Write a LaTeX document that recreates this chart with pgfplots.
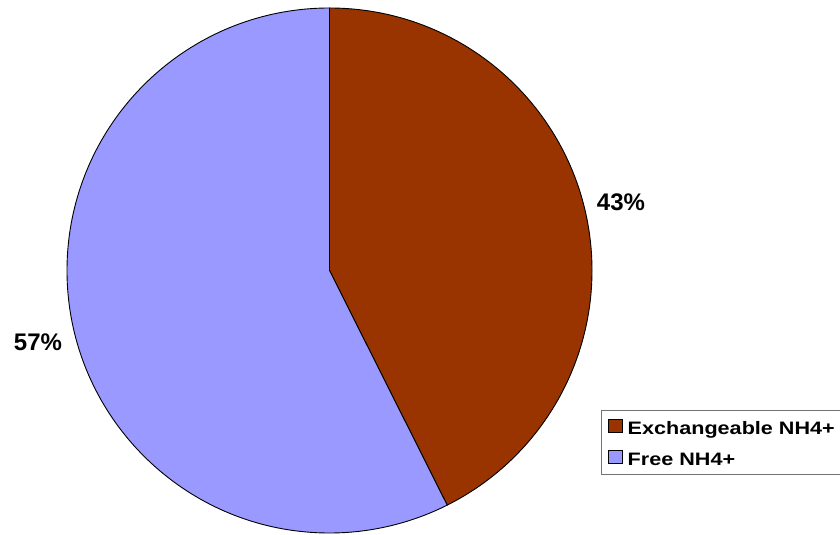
\documentclass[border=0pt]{standalone}
\usepackage{pgfplots}
\usepackage{pgfplotstable}
\pgfplotsset{compat=1.18}
\usepackage{fontspec}
\setmainfont{Liberation Sans}
\newfontfamily\legfont[FakeStretch=1.2]{Liberation Sans}
\definecolor{exch}{HTML}{993300}
\definecolor{free}{HTML}{9999FF}
\pgfplotstableread{
name value
Exchangeable 42.6
Free 57.4
}\piedata
\begin{document}
\begin{tikzpicture}
\pgfplotstablegetelem{0}{value}\of\piedata \let\va\pgfplotsretval
\pgfplotstablegetelem{1}{value}\of\piedata \let\vb\pgfplotsretval
\pgfmathsetmacro{\angA}{90-3.6*\va}
\begin{axis}[
  scale only axis, width=840pt, height=535pt,
  xmin=0, xmax=840, ymin=0, ymax=535,
  hide axis, clip=false,
  legend style={at={(axis cs:601,125)}, anchor=north west, draw=black!55, line width=0.8pt,
    font=\legfont\bfseries\fontsize{18}{20}\selectfont, inner xsep=6.5pt, inner ysep=8.5pt,
    row sep=15pt, cells={anchor=west},
    nodes={inner sep=0pt, text height=13pt, text depth=0pt},
    /tikz/every odd column/.append style={column sep=5pt}},
  legend image code/.code={\draw[#1, draw=black, line width=0.8pt] (0pt,-4pt) rectangle (14pt,9pt);},
]
\addlegendimage{fill=exch}
\addlegendentry{Exchangeable NH4+}
\addlegendimage{fill=free}
\addlegendentry{Free NH4+}
\filldraw[fill=exch, draw=black, line width=0.9pt] (axis cs:329.5,264.5) -- (axis cs:329.5,527) arc[start angle=90, end angle=\angA, radius=262.5pt] -- cycle;
\filldraw[fill=free, draw=black, line width=0.9pt] (axis cs:329.5,264.5) -- (axis cs:329.5,527) arc[start angle=90, end angle=\angA+360, radius=262.5pt] -- cycle;
\node[font=\bfseries\fontsize{24}{26}\selectfont] at (axis cs:621,333) {\pgfmathprintnumber[fixed,precision=0,assume math mode=true]{\va}\%};
\node[font=\bfseries\fontsize{24}{26}\selectfont] at (axis cs:38,193) {\pgfmathprintnumber[fixed,precision=0,assume math mode=true]{\vb}\%};
\end{axis}
\pgfresetboundingbox
\path (0,0) rectangle (840pt,535pt);
\end{tikzpicture}
\end{document}
